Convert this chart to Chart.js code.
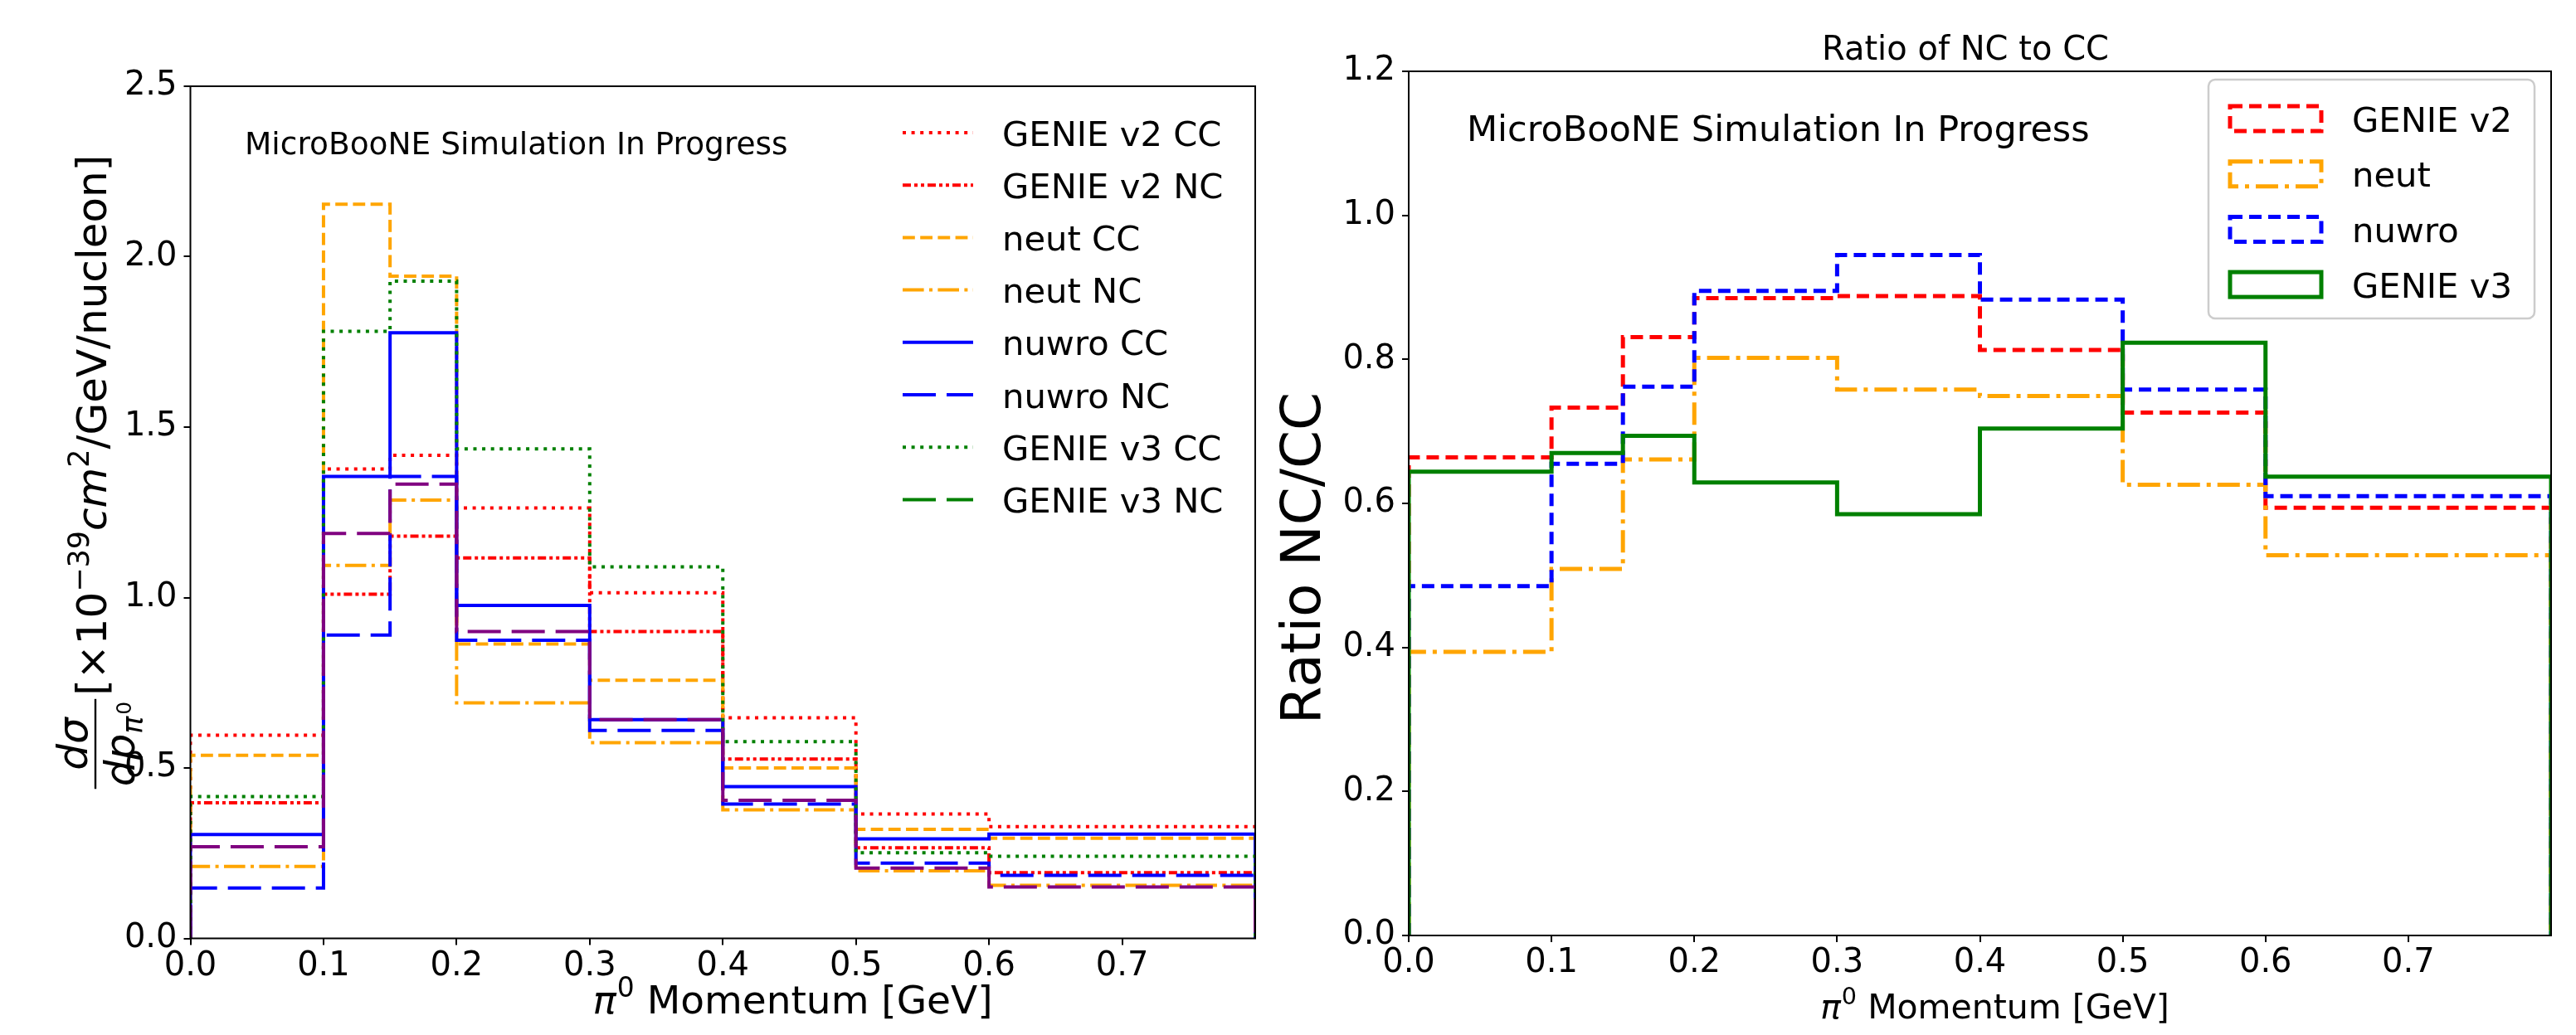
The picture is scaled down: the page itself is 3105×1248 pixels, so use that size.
<!DOCTYPE html>
<html><head><meta charset="utf-8">
<script src="https://cdn.jsdelivr.net/npm/chart.js@4.4.1/dist/chart.umd.min.js"></script>
<style>
html,body{margin:0;padding:0;background:#fff;width:3105px;height:1248px;overflow:hidden}
canvas{position:absolute;top:0}
#c1{left:0}
#c2{left:1530px}
</style></head>
<body>
<canvas id="c1" width="1530" height="1248"></canvas>
<canvas id="c2" width="1575" height="1248"></canvas>
<script>
// ---------------- data ----------------
const binEdges = [0, 0.1, 0.15, 0.2, 0.3, 0.4, 0.5, 0.6, 0.8];
const xTickValues = [0, 0.1, 0.2, 0.3, 0.4, 0.5, 0.6, 0.7];
const leftYTickValues = [0, 0.5, 1.0, 1.5, 2.0, 2.5];
const rightYTickValues = [0, 0.2, 0.4, 0.6, 0.8, 1.0, 1.2];

const xsecLabels = ['GENIE v2 CC', 'GENIE v2 NC', 'neut CC', 'neut NC', 'nuwro CC', 'nuwro NC', 'GENIE v3 CC', 'GENIE v3 NC'];
const genieV2CC = [0.596, 1.377, 1.417, 1.263, 1.014, 0.647, 0.365, 0.328];
const genieV2NC = [0.398, 1.010, 1.180, 1.116, 0.900, 0.526, 0.266, 0.193];
const neutCC    = [0.537, 2.154, 1.943, 0.864, 0.757, 0.500, 0.320, 0.294];
const neutNC    = [0.211, 1.094, 1.286, 0.691, 0.574, 0.377, 0.198, 0.156];
const nuwroCC   = [0.305, 1.355, 1.777, 0.977, 0.642, 0.445, 0.292, 0.306];
const nuwroNC   = [0.148, 0.890, 1.355, 0.875, 0.610, 0.394, 0.221, 0.185];
const genieV3CC = [0.416, 1.781, 1.928, 1.436, 1.090, 0.577, 0.251, 0.241];
const genieV3NC = [0.269, 1.188, 1.333, 0.900, 0.642, 0.405, 0.206, 0.151];

const ratioLabels = ['GENIE v2', 'neut', 'nuwro', 'GENIE v3'];
const ratioGenieV2 = [0.664, 0.733, 0.831, 0.885, 0.888, 0.813, 0.726, 0.594];
const ratioNeut    = [0.394, 0.509, 0.661, 0.802, 0.758, 0.749, 0.626, 0.528];
const ratioNuwro   = [0.485, 0.655, 0.762, 0.895, 0.945, 0.883, 0.758, 0.610];
const ratioGenieV3 = [0.644, 0.670, 0.694, 0.629, 0.585, 0.704, 0.823, 0.637];

// ---------------- styles ----------------
const FONT = '"DejaVu Sans", sans-serif';
const RED = '#ff0000', ORANGE = '#ffa500', BLUE = '#0000ff', GREEN = '#008000', PURPLE = '#800080';
const xsecStyles = [
  {color: RED, legend: RED, dash: [4, 6.6]},
  {color: RED, legend: RED, dash: [10, 4, 4, 4, 4, 4]},
  {color: ORANGE, legend: ORANGE, dash: [14.8, 6.4]},
  {color: ORANGE, legend: ORANGE, dash: [25.6, 6.4, 4, 6.4]},
  {color: BLUE, legend: BLUE, dash: []},
  {color: BLUE, legend: BLUE, dash: [40, 13]},
  {color: GREEN, legend: GREEN, dash: [4, 6.6]},
  {color: PURPLE, legend: GREEN, dash: [40, 13]}
];
const ratioStyles = [
  {color: RED, dash: [15, 8]},
  {color: ORANGE, dash: [27, 8, 5, 8]},
  {color: BLUE, dash: [15, 8]},
  {color: GREEN, dash: []}
];

function stepPoints(vals) {
  const pts = [{x: binEdges[0], y: 0}];
  for (let i = 0; i < vals.length; i++) pts.push({x: binEdges[i], y: vals[i]});
  pts.push({x: binEdges[binEdges.length - 1], y: 0});
  return pts;
}

function makeDatasets(series, labels, styles, lw) {
  const n = series.length;
  return series.map((vals, i) => ({
    label: labels[i],
    data: stepPoints(vals),
    borderColor: styles[i].color,
    borderWidth: lw,
    borderDash: styles[i].dash,
    borderCapStyle: 'butt',
    borderJoinStyle: 'miter',
    stepped: true,
    fill: false,
    pointRadius: 0,
    tension: 0,
    order: n - i
  }));
}

function axisCommon(tickVals, fmt, pad) {
  return {
    type: 'linear',
    afterBuildTicks: s => { s.ticks = tickVals.map(v => ({value: v})); },
    ticks: {
      callback: v => v.toFixed(fmt),
      font: {family: FONT, size: 40},
      color: '#000',
      padding: pad,
      maxRotation: 0,
      autoSkip: false
    },
    grid: {display: true, drawOnChartArea: false, drawTicks: true, tickLength: 8, color: '#000', lineWidth: 2},
    border: {display: false}
  };
}

function frameRect(chart) {
  const {ctx, chartArea: a} = chart;
  ctx.save();
  ctx.strokeStyle = '#000';
  ctx.lineWidth = 2;
  ctx.setLineDash([]);
  ctx.strokeRect(a.left, a.top, a.right - a.left, a.bottom - a.top);
  ctx.restore();
}

function drawPiLabel(ctx, size, cx, by) {
  ctx.font = `italic ${size}px ${FONT}`;
  const wPi = ctx.measureText('π').width;
  ctx.font = `${size * 0.7}px ${FONT}`;
  const w0 = ctx.measureText('0').width;
  ctx.font = `${size}px ${FONT}`;
  const rest = ' Momentum [GeV]';
  const wR = ctx.measureText(rest).width;
  let x = cx - (wPi + w0 + wR) / 2;
  ctx.textAlign = 'left';
  ctx.textBaseline = 'alphabetic';
  ctx.font = `italic ${size}px ${FONT}`;
  ctx.fillText('π', x, by); x += wPi + 1;
  ctx.font = `${size * 0.7}px ${FONT}`;
  ctx.fillText('0', x, by - size * 0.42); x += w0;
  ctx.font = `${size}px ${FONT}`;
  ctx.fillText(rest, x, by);
}

function drawLeftYLabel(ctx, F, baseX, centerY) {
  ctx.save();
  ctx.translate(baseX, centerY);
  ctx.rotate(-Math.PI / 2);
  ctx.fillStyle = '#000';
  ctx.textBaseline = 'alphabetic';
  ctx.textAlign = 'left';
  const up = `${F}px ${FONT}`, it = `italic ${F}px ${FONT}`;
  const sm = `${F * 0.7}px ${FONT}`, smIt = `italic ${F * 0.7}px ${FONT}`, xs = `${F * 0.5}px ${FONT}`;
  const mw = (f, t) => { ctx.font = f; return ctx.measureText(t).width; };
  const numW = mw(it, 'dσ');
  const denDP = mw(it, 'dp'), denPi = mw(smIt, 'π'), den0 = mw(xs, '0');
  const denW = denDP + denPi + den0 + 2;
  const fracW = Math.max(numW, denW) + 6;
  const parts = [
    {t: '[×10', f: up, dy: 0},
    {t: '−39', f: sm, dy: -0.42 * F},
    {t: 'cm', f: it, dy: 0},
    {t: '2', f: sm, dy: -0.42 * F},
    {t: '/GeV/nucleon]', f: up, dy: 0}
  ];
  let mainW = 0;
  parts.forEach(p => { p.w = mw(p.f, p.t); mainW += p.w; });
  const total = fracW + 4 + mainW;
  let x = -total / 2;
  const barY = -0.26 * F;
  ctx.font = it;
  ctx.fillText('dσ', x + (fracW - numW) / 2, barY - 0.2 * F);
  ctx.fillRect(x, barY - 1.2, fracW, 2.4);
  let dx = x + (fracW - denW) / 2;
  const denBase = barY + 0.2 * F + 0.74 * F;
  ctx.font = it; ctx.fillText('dp', dx, denBase); dx += denDP;
  ctx.font = smIt; ctx.fillText('π', dx, denBase + 0.2 * F); dx += denPi + 2;
  ctx.font = xs; ctx.fillText('0', dx, denBase - 0.08 * F);
  x += fracW + 4;
  parts.forEach(p => { ctx.font = p.f; ctx.fillText(p.t, x, p.dy); x += p.w; });
  ctx.restore();
}

// ---------------- left chart ----------------
const L = {left: 229.5, right: 1513, top: 104, bottom: 1131.5, W: 1530, H: 1248};
const leftDecor = {
  id: 'leftDecor',
  afterDatasetsDraw(chart) { frameRect(chart); },
  afterDraw(chart) {
    const ctx = chart.ctx;
    ctx.save();
    ctx.fillStyle = '#000';
    ctx.textAlign = 'left';
    ctx.textBaseline = 'alphabetic';
    ctx.font = `37.5px ${FONT}`;
    ctx.fillText('MicroBooNE Simulation In Progress', 295, 186);
    xsecLabels.forEach((lab, i) => {
      const y = 160 + i * 63.2;
      ctx.strokeStyle = xsecStyles[i].legend;
      ctx.lineWidth = 4;
      ctx.setLineDash(xsecStyles[i].dash);
      ctx.beginPath(); ctx.moveTo(1088, y); ctx.lineTo(1173, y); ctx.stroke();
      ctx.setLineDash([]);
      ctx.font = `41.7px ${FONT}`;
      ctx.fillText(lab, 1208, y + 15.5);
    });
    drawPiLabel(ctx, 47, 955, 1222);
    drawLeftYLabel(ctx, 50, 128, 569);
    ctx.restore();
  }
};

new Chart(document.getElementById('c1'), {
  type: 'line',
  data: {datasets: makeDatasets([genieV2CC, genieV2NC, neutCC, neutNC, nuwroCC, nuwroNC, genieV3CC, genieV3NC], xsecLabels, xsecStyles, 4)},
  options: {
    responsive: false, devicePixelRatio: 1, animation: false,
    layout: {padding: {left: 0, top: L.top, right: L.W - L.right, bottom: 0}},
    plugins: {legend: {display: false}, tooltip: {enabled: false}},
    scales: {
      x: Object.assign(axisCommon(xTickValues, 1, 2), {min: 0, max: 0.8, afterFit: s => { s.height = L.H - L.bottom; }}),
      y: Object.assign(axisCommon(leftYTickValues, 1, 8), {min: 0, max: 2.5, afterFit: s => { s.width = L.left; }})
    }
  },
  plugins: [leftDecor]
});

// ---------------- right chart ----------------
const OX = 1530;
const R = {left: 1698 - OX, right: 3075 - OX, top: 86, bottom: 1128, W: 1575, H: 1248};
const rightDecor = {
  id: 'rightDecor',
  afterDatasetsDraw(chart) { frameRect(chart); },
  afterDraw(chart) {
    const ctx = chart.ctx;
    ctx.save();
    ctx.fillStyle = '#000';
    ctx.textBaseline = 'alphabetic';
    ctx.textAlign = 'left';
    ctx.font = `43px ${FONT}`;
    ctx.fillText('MicroBooNE Simulation In Progress', 1768 - OX, 170);
    ctx.textAlign = 'center';
    ctx.font = `40px ${FONT}`;
    ctx.fillText('Ratio of NC to CC', 2369 - OX, 72);
    // legend box
    const bx = 2662 - OX, by = 96, bw = 3055 - 2662, bh = 384 - 96;
    ctx.save();
    ctx.beginPath();
    ctx.roundRect(bx, by, bw, bh, 8);
    ctx.fillStyle = 'rgba(255,255,255,0.8)';
    ctx.fill();
    ctx.strokeStyle = '#cccccc';
    ctx.lineWidth = 2.5;
    ctx.stroke();
    ctx.restore();
    ctx.textAlign = 'left';
    ctx.font = `41.7px ${FONT}`;
    ratioLabels.forEach((lab, i) => {
      const y = 143 + i * 66.7;
      ctx.strokeStyle = ratioStyles[i].color;
      ctx.lineWidth = 5;
      ctx.setLineDash(ratioStyles[i].dash);
      ctx.strokeRect(2688 - OX, y - 15, 110, 30);
      ctx.setLineDash([]);
      ctx.fillStyle = '#000';
      ctx.fillText(lab, 2835 - OX, y + 15.5);
    });
    drawPiLabel(ctx, 41, 2404 - OX, 1228);
    ctx.save();
    ctx.translate(1574 - OX, 673);
    ctx.rotate(-Math.PI / 2);
    ctx.textAlign = 'center';
    ctx.textBaseline = 'middle';
    ctx.font = `66px ${FONT}`;
    ctx.fillText('Ratio NC/CC', 0, 0);
    ctx.restore();
    ctx.restore();
  }
};

new Chart(document.getElementById('c2'), {
  type: 'line',
  data: {datasets: makeDatasets([ratioGenieV2, ratioNeut, ratioNuwro, ratioGenieV3], ratioLabels, ratioStyles, 5)},
  options: {
    responsive: false, devicePixelRatio: 1, animation: false,
    layout: {padding: {left: 0, top: R.top, right: R.W - R.right, bottom: 0}},
    plugins: {legend: {display: false}, tooltip: {enabled: false}},
    scales: {
      x: Object.assign(axisCommon(xTickValues, 1, 2), {min: 0, max: 0.8, afterFit: s => { s.height = R.H - R.bottom; }}),
      y: Object.assign(axisCommon(rightYTickValues, 1, 8), {min: 0, max: 1.2, afterFit: s => { s.width = R.left; }})
    }
  },
  plugins: [rightDecor]
});
</script>
</body></html>
